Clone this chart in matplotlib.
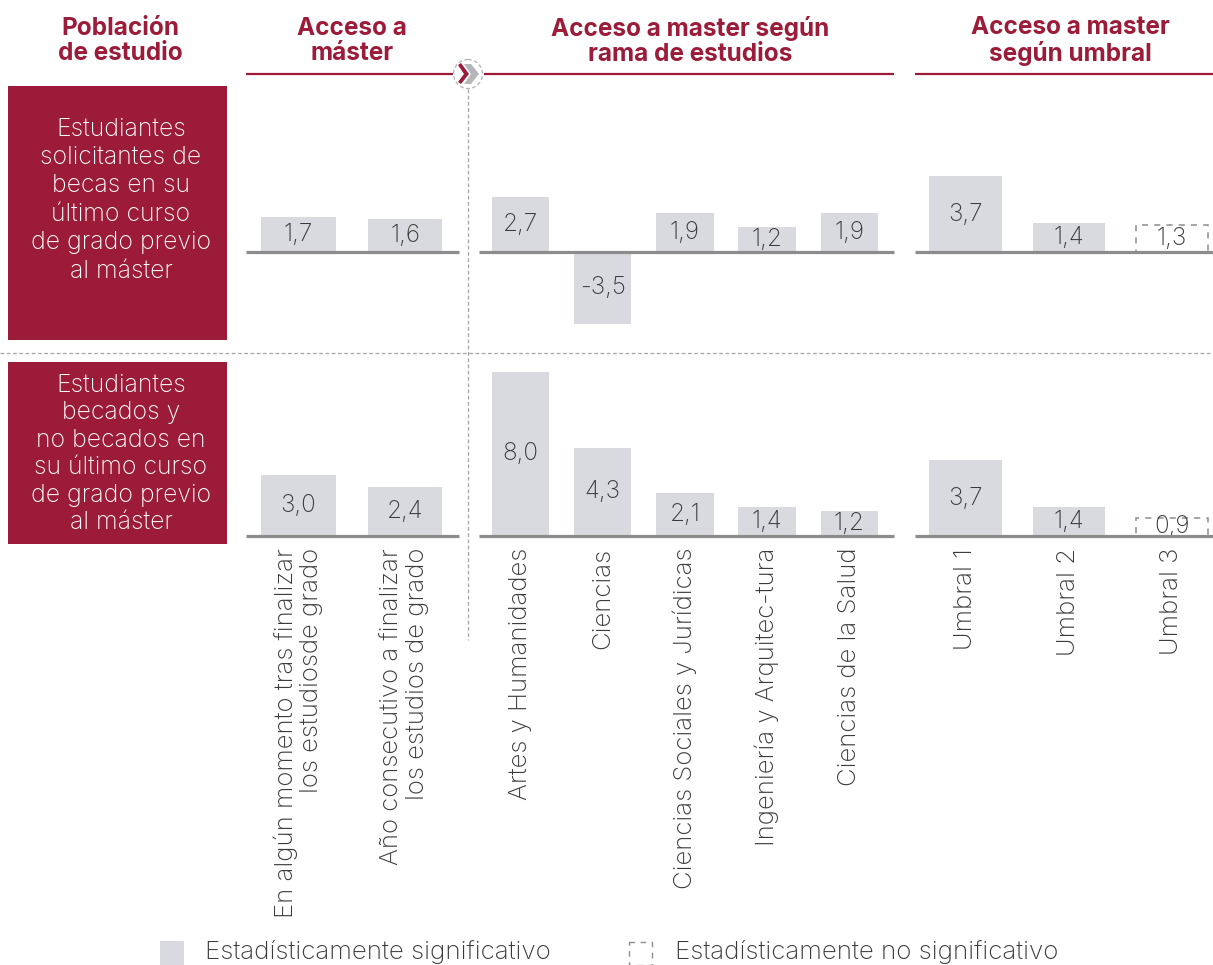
import matplotlib
matplotlib.use("Agg")
import matplotlib.pyplot as plt
from matplotlib.patches import Rectangle, Circle, Polygon

plt.rcParams['font.family'] = ['Inter', 'DejaVu Sans']

W, H = 1213, 965
RED = '#9b1b38'
BAR = '#d9dadf'
LINE = '#8c8c8c'
TXT = '#3a3a3a'
PX_PER_UNIT = 20.5

# data
labels_master = ['En algún momento tras finalizar\nlos estudiosde grado',
                 'Año consecutivo a finalizar\nlos estudios de grado']
labels_rama = ['Artes y Humanidades', 'Ciencias', 'Ciencias Sociales y Jurídicas',
               'Ingeniería y Arquitec-tura', 'Ciencias de la Salud']
labels_umbral = ['Umbral 1', 'Umbral 2', 'Umbral 3']

solic_master = [1.7, 1.6]
solic_rama = [2.7, -3.5, 1.9, 1.2, 1.9]
solic_umbral = [3.7, 1.4, 1.3]
solic_umbral_sig = [True, True, False]

becados_master = [3.0, 2.4]
becados_rama = [8.0, 4.3, 2.1, 1.4, 1.2]
becados_umbral = [3.7, 1.4, 0.9]
becados_umbral_sig = [True, True, False]

headers = ['Población\nde estudio', 'Acceso a\nmáster',
           'Acceso a master según\nrama de estudios', 'Acceso a master\nsegún umbral']
row_titles = ['Estudiantes\nsolicitantes de\nbecas en su\núltimo curso\nde grado previo\nal máster',
              'Estudiantes\nbecados y\nno becados en\nsu último curso\nde grado previo\nal máster']
legend_labels = ['Estadísticamente significativo', 'Estadísticamente no significativo']

fig = plt.figure(figsize=(W / 100, H / 100), dpi=100)

# overlay in pixel coords for the decoration
bg = fig.add_axes([0, 0, 1, 1])
bg.set_xlim(0, W)
bg.set_ylim(H, 0)
bg.axis('off')


def panel(x0, x1, top, zero, bottom, first, step):
    ax = fig.add_axes([x0 / W, 1 - bottom / H, (x1 - x0) / W, (bottom - top) / H])
    ax.patch.set_alpha(0)
    ax.set_xlim((x0 - first) / step, (x1 - first) / step)
    ax.set_ylim((zero - bottom) / PX_PER_UNIT, (zero - top) / PX_PER_UNIT)
    for s in ax.spines.values():
        s.set_visible(False)
    ax.set_yticks([])
    return ax


def draw(ax, values, sig=None, names=None):
    sig = sig or [True] * len(values)
    xs = list(range(len(values)))
    bars = ax.bar(xs, values, width=0.70, color=BAR, linewidth=0)
    for b, s in zip(bars, sig):
        if not s:
            b.set_facecolor('none')
            b.set_edgecolor(LINE)
            b.set_linewidth(1.1)
            b.set_linestyle((0, (4, 4)))
    ax.bar_label(bars, labels=[f'{v:.1f}'.replace('.', ',') for v in values],
                 label_type='center', fontsize=17.5, color=TXT, fontweight='light')
    ax.axhline(0, color=LINE, lw=2.3, clip_on=False, zorder=3, solid_capstyle='butt')
    if names:
        ax.set_xticks(xs)
        ax.set_xticklabels(names, rotation=90, ha='center', va='top', ma='right',
                           fontsize=18.5, color=TXT, fontweight='light', linespacing=1.1)
        ax.tick_params(axis='x', length=0, pad=8.5)
    else:
        ax.set_xticks([])


groups = [(246, 459, 298.5, 106.5), (479, 894, 520.5, 82.2), (915, 1213, 965.5, 103.2)]
row1 = [(solic_master, None, None), (solic_rama, None, None), (solic_umbral, solic_umbral_sig, None)]
row2 = [(becados_master, None, labels_master), (becados_rama, None, labels_rama),
        (becados_umbral, becados_umbral_sig, labels_umbral)]
for (x0, x1, first, step), r1, r2 in zip(groups, row1, row2):
    draw(panel(x0, x1, 86, 252, 340, first, step), *r1)
    draw(panel(x0, x1, 362, 536, 536, first, step), *r2)

# headers
for x, t in zip([120, 352, 690, 1070], headers):
    bg.text(x, 41, t, ha='center', va='center', color=RED, fontsize=17.5, fontweight='bold',
            linespacing=1.1)
for x0, x1 in [(246, 453), (484, 894), (915, 1213)]:
    bg.plot([x0, x1], [74, 74], color=RED, lw=1.6, solid_capstyle='butt')

# row boxes
for (top, bottom), t, yc, sp in zip([(86, 340), (362, 544)], row_titles, [200, 454], [1.3, 1.25]):
    bg.add_patch(Rectangle((8, top), 219, bottom - top, color=RED, lw=0))
    bg.text(121, yc, t, ha='center', va='center', color='white', fontsize=17.8, fontweight='light',
            linespacing=sp)

# dashed guides and the chevron marker
bg.plot([0, W], [353, 353], color='#a6a6a6', lw=0.9, ls=(0, (3, 2)))
bg.plot([468, 468], [89, 640], color='#a6a6a6', lw=0.9, ls=(0, (3, 2)))
bg.add_patch(Circle((468, 74), 14.5, fc='white', ec='#b3b3b3', lw=0.9, ls=(0, (3, 2)), zorder=4))
bg.add_patch(Polygon([(464, 64), (471, 64), (479, 74), (471, 84), (464, 84), (471, 74)],
                     fc='#b5b6ba', lw=0, zorder=5))
bg.add_patch(Polygon([(458, 65), (461, 63), (469, 74), (461, 84), (458, 82), (464, 74)],
                     fc=RED, lw=0, zorder=6))

# legend
bg.add_patch(Rectangle((160, 941), 24, 24, color=BAR, lw=0, clip_on=False))
bg.add_patch(Rectangle((629, 942), 23, 23, fc='none', ec=LINE, lw=1, ls=(0, (4, 4)), clip_on=False))
bg.text(205, 952, legend_labels[0], ha='left', va='center', fontsize=18.7, color=TXT, fontweight='light')
bg.text(675, 952, legend_labels[1], ha='left', va='center', fontsize=18.7, color=TXT, fontweight='light')

fig.savefig('out.png', dpi=100)
